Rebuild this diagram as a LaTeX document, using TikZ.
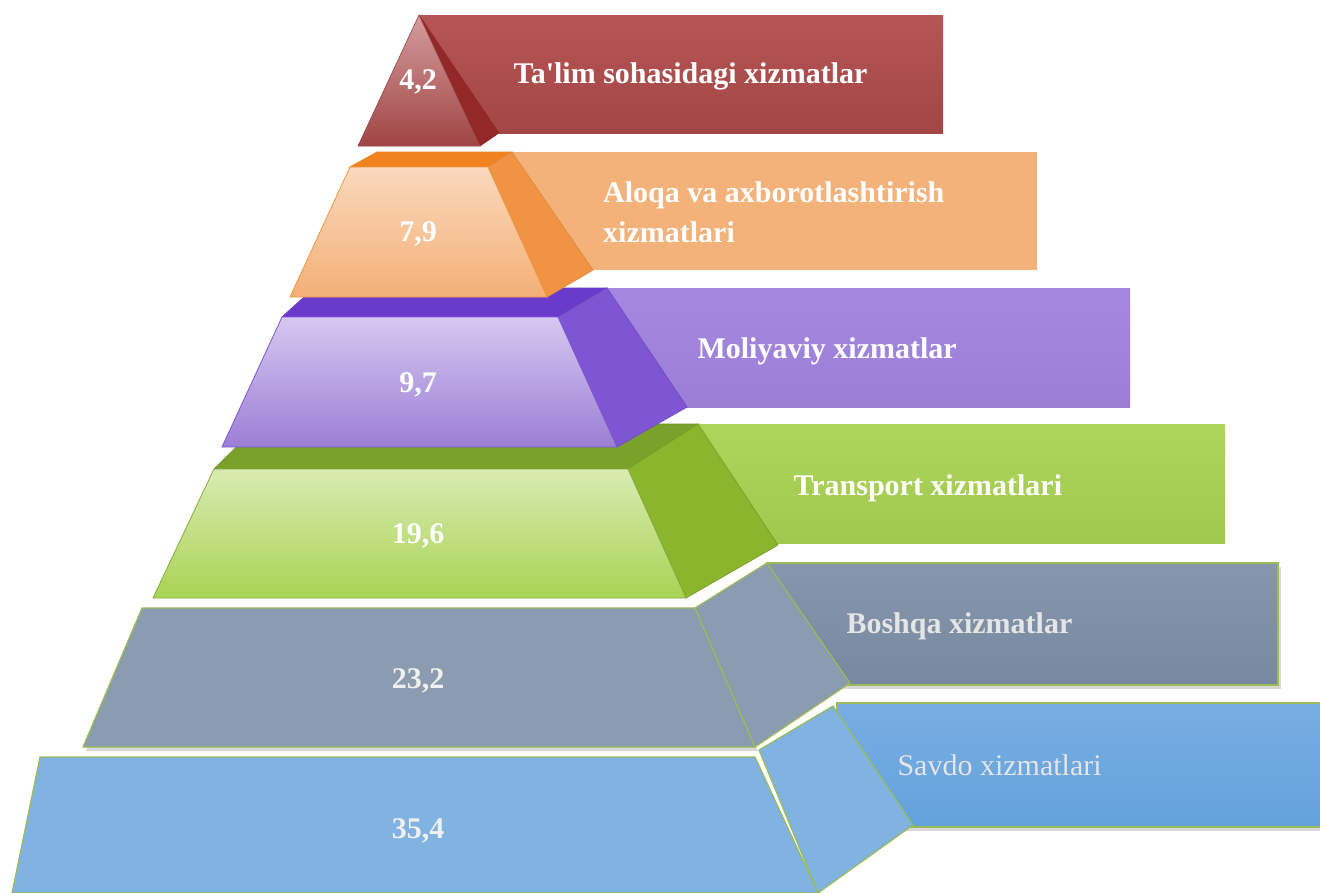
\documentclass[tikz,border=0pt]{standalone}
\usepackage{fontspec}
\setmainfont{Liberation Serif}
\usepackage{tikz}
\usetikzlibrary{shadows}

\definecolor{edgegreen}{HTML}{9BBB59}
\definecolor{talimrect}{HTML}{B24C4C}
\definecolor{talimside}{HTML}{922828}
\definecolor{aloqarect}{HTML}{F4B27B}
\definecolor{aloqatop}{HTML}{F08320}
\definecolor{aloqaside}{HTML}{F09342}
\definecolor{moliyarect}{HTML}{A385E0}
\definecolor{moliyatop}{HTML}{6A3BCB}
\definecolor{moliyaside}{HTML}{7E56D3}
\definecolor{transrect}{HTML}{A9D353}
\definecolor{transtop}{HTML}{7AA22A}
\definecolor{transside}{HTML}{8BB52C}
\definecolor{boshqarect}{HTML}{8796AC}
\definecolor{boshqalow}{HTML}{7788A0}
\definecolor{boshqaface}{HTML}{8B9BB0}
\definecolor{savdorect}{HTML}{78AEE2}
\definecolor{savdolow}{HTML}{63A2DD}
\definecolor{savdoface}{HTML}{80B2E2}

\begin{document}
\begin{tikzpicture}[
    x = 1pt, y = -1pt,
    value/.style = {
      font = \bfseries\fontsize{30}{40}\selectfont,
      text = white,
      anchor = base,
    },
    caption/.style = {
      font = \bfseries\fontsize{30}{40}\selectfont,
      text = white,
      anchor = base west,
      align = left,
    },
    soft shadow/.style = {
      drop shadow = {shadow xshift = 3pt, shadow yshift = -4pt,
        opacity = 0.25, fill = black!60},
    },
  ]
      \clip (0,0) rectangle (1320,892);
      \fill [white] (0,0) rectangle (1320,892);

      \path [soft shadow, top color = savdorect, bottom color = savdolow,
        draw = edgegreen, line width = 1.2pt]
          (837,703) rectangle (1330,827);
      \filldraw [fill = savdoface, draw = edgegreen, line width = 1.2pt]
          (759,750) -- (833,706) -- (913,825) -- (818,893) -- cycle;
      \filldraw [fill = savdoface, draw = edgegreen, line width = 1.2pt]
          (40,757) -- (755,757) -- (818,893) -- (12,893) -- cycle;

      \path [soft shadow, top color = boshqarect, bottom color = boshqalow,
        draw = edgegreen, line width = 1.2pt]
          (767,563) rectangle (1278,685);
      \path [soft shadow, fill = boshqaface, draw = edgegreen, line width = 1.2pt]
          (142,608) -- (695,608) -- (755,747) -- (83,747) -- cycle;
      \filldraw [fill = boshqaface, draw = edgegreen, line width = 1.2pt]
          (695,608) -- (767,563) -- (850,683) -- (755,747) -- cycle;

      \fill [top color = transrect!95!white, bottom color = transrect!95!black]
          (698,424) rectangle (1225,543);
      \filldraw [fill = transtop, draw = transtop!90!black, line width = 0.8pt]
          (214,469) -- (260,424) -- (698,424) -- (628,469) -- cycle;
      \filldraw [fill = transside, draw = transside!90!black, line width = 0.8pt]
          (628,469) -- (698,424) -- (778,545) -- (686,598) -- cycle;
      \path [top color = transrect!45!white, bottom color = transrect,
        draw = transrect!80!black, line width = 0.8pt]
          (214,469) -- (628,469) -- (686,598) -- (153,598) -- cycle;

      \fill [top color = moliyarect!98!white, bottom color = moliyarect!95!black]
          (607,288) rectangle (1130,407);
      \filldraw [fill = moliyatop, draw = moliyatop, line width = 0.8pt]
          (282,317) -- (314,288) -- (607,288) -- (558,317) -- cycle;
      \filldraw [fill = moliyaside, draw = moliyaside!90!black, line width = 0.8pt]
          (558,317) -- (607,288) -- (687,407) -- (617,447) -- cycle;
      \path [top color = moliyarect!45!white, bottom color = moliyarect!95!black,
        draw = moliyaside, line width = 0.8pt]
          (282,317) -- (558,317) -- (617,447) -- (222,447) -- cycle;

      \fill [aloqarect] (512,152) rectangle (1037,270);
      \filldraw [fill = aloqatop, draw = aloqatop, line width = 0.8pt]
          (350,167) -- (377,152) -- (512,152) -- (488,167) -- cycle;
      \filldraw [fill = aloqaside, draw = aloqaside!95!black, line width = 0.8pt]
          (488,167) -- (512,152) -- (593,270) -- (547,297) -- cycle;
      \path [top color = aloqarect!50!white, bottom color = aloqarect!95!aloqatop,
        draw = aloqatop!85!white, line width = 0.8pt]
          (350,167) -- (488,167) -- (547,297) -- (290,297) -- cycle;

      \fill [top color = talimrect!95!white, bottom color = talimrect!92!black]
          (419,15) rectangle (943,133);
      \filldraw [fill = talimside, draw = talimside, line width = 0.6pt]
          (419,15) -- (480,146) -- (499,133) -- cycle;
      \path [top color = talimrect!55!white, bottom color = talimrect!90!black,
        draw = talimrect!85!black, line width = 0.6pt]
          (419,15) -- (480,146) -- (358,146) -- cycle;

      \node [value] (talim value)   at (418,89)  {4,2};
      \node [value] (aloqa value)   at (418,241) {7,9};
      \node [value] (moliya value)  at (418,392) {9,7};
      \node [value] (trans value)   at (418,543) {19,6};
      \node [value, text = white!94!black] (boshqa value) at (418,688) {23,2};
      \node [value, text = white!94!black] (savdo value)  at (418,838) {35,4};

      \node [caption] (talim text)  at (510,83)
        {Ta\textquotesingle lim sohasidagi xizmatlar};
      \node [caption, anchor = north west, inner sep = 0pt] (aloqa text)
        at (603,181) {Aloqa va axborotlashtirish\\xizmatlari};
      \node [caption] (moliya text) at (694,358) {Moliyaviy xizmatlar};
      \node [caption] (trans text)  at (790,495) {Transport xizmatlari};
      \node [caption, text = white!90!black] (boshqa text) at (843,633)
        {Boshqa xizmatlar};
      \node [caption, font = \fontsize{30}{40}\selectfont, text = white!90!black]
        (savdo text) at (894,775) {Savdo xizmatlari};
\end{tikzpicture}
\end{document}
